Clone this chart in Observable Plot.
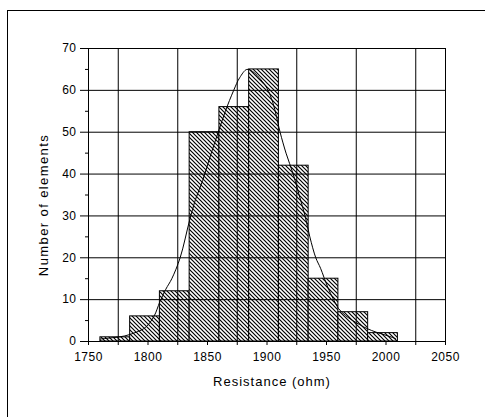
<!DOCTYPE html>
<html><head><meta charset="utf-8">
<script src="https://cdn.jsdelivr.net/npm/d3@7"></script>
<script src="https://cdn.jsdelivr.net/npm/@observablehq/plot@0.6"></script>
<style>
body{margin:0;background:#fff;}
#wrap{position:relative;width:485px;height:417px;overflow:hidden;background:#fff;}
#border{position:absolute;left:7px;top:10px;width:500px;height:420px;border-top:1px solid #000;border-left:1px solid #000;pointer-events:none;}
</style></head><body>
<div id="wrap"><div id="chart"></div><div id="border"></div></div>
<script>
const binStart = [1760,1785,1810,1835,1860,1885,1910,1935,1960,1985];
const binEnd   = [1785,1810,1835,1860,1885,1910,1935,1960,1985,2010];
const counts   = [1,6,12,50,56,65,42,15,7,2];

const curveX = [1760,1770,1780,1790,1798,1805,1810,1815,1820,1827,1835,1840,1846,1852,1859,1865,1872,1877,1883,1888,1895,1900,1905,1911,1916,1922,1927,1932,1936,1941,1945,1951,1956,1960,1966,1972,1978,1984,1992,2001,2008];
const curveY = [0.6,0.9,1.3,2.2,3.4,6,9.5,12.5,15,20,29,34,38.5,44,50,55,60,63,65,64.5,62.5,60.5,57,50,45,40,35,30,25,20,17.5,13,10,7.9,6.2,5,4,3.1,2.2,1.4,0.7];

const xTicks = [1750,1800,1850,1900,1950,2000,2050];
const xGrid  = [1775,1825,1875,1925,1975,2025];
const yTicks = [0,10,20,30,40,50,60,70];
const yMinor = [5,15,25,35,45,55,65];
const yGrid  = [10,20,30,40,50,60];
const xTitle = "Resistance (ohm)";
const yTitle = "Number of elements";

const bars = binStart.map((s,i)=>({x1:s, x2:binEnd[i], y:counts[i]}));
const curve = curveX.map((x,i)=>({x, y:curveY[i]}));

const chart = Plot.plot({
  width: 485, height: 417,
  marginLeft: 88, marginRight: 40, marginTop: 48, marginBottom: 76,
  style: {fontFamily: "'Liberation Sans', Arial, sans-serif", fontSize: "12px", background: "#fff", color: "#000", overflow: "visible"},
  x: {domain: [1750, 2050]},
  y: {domain: [0, 70]},
  marks: [
    Plot.rectY(bars, {x1:"x1", x2:"x2", y:"y", fill:"url(#hatch)", stroke:"#000", strokeWidth:1, inset:0}),
    Plot.gridX(xGrid, {stroke:"#000", strokeOpacity:1, strokeWidth:1}),
    Plot.gridY(yGrid, {stroke:"#000", strokeOpacity:1, strokeWidth:1}),
    Plot.line(curve, {x:"x", y:"y", stroke:"#000", strokeWidth:1, curve:"catmull-rom"}),
    Plot.frame({stroke:"#000", strokeWidth:1}),
    Plot.axisX({ticks: xTicks, tickFormat: d=>String(d), tickSize: 4, tickPadding: 7, label: null, stroke:"#000"}),
    Plot.axisX({ticks: xGrid, tickSize: 4, text: null, label: null, stroke:"#000"}),
    Plot.axisY({ticks: yTicks, tickSize: 8, tickPadding: 4, label: null, stroke:"#000"}),
    Plot.axisY({ticks: yMinor, tickSize: 3, text: null, label: null, stroke:"#000"}),
    Plot.text([xTitle], {text: d=>d, frameAnchor: "bottom", textAnchor: "middle", lineAnchor: "middle", dx: 5, dy: 40, fontSize: 13, fill:"#000"}),
    Plot.text([yTitle], {text: d=>d, frameAnchor: "left", textAnchor: "middle", lineAnchor: "middle", dx: -45, dy: 10, rotate: -90, fontSize: 13, fill:"#000"})
  ]
});

const ns = "http://www.w3.org/2000/svg";
const defs = document.createElementNS(ns, "defs");
defs.innerHTML = '<pattern id="hatch" patternUnits="userSpaceOnUse" width="4" height="4">' +
  '<rect width="4" height="4" fill="#fff"/>' +
  '<path d="M-1,-1 L5,5 M3,-1 L5,1 M-1,3 L1,5" stroke="#000" stroke-width="1.2"/></pattern>';
chart.insertBefore(defs, chart.firstChild);
chart.querySelectorAll("text").forEach(t=>{
  const s = t.textContent;
  if (s === xTitle) t.style.letterSpacing = "1px";
  else if (s === yTitle) t.style.letterSpacing = "1.4px";
  else t.style.letterSpacing = "0.5px";
});
document.getElementById("chart").appendChild(chart);
</script>
</body></html>
